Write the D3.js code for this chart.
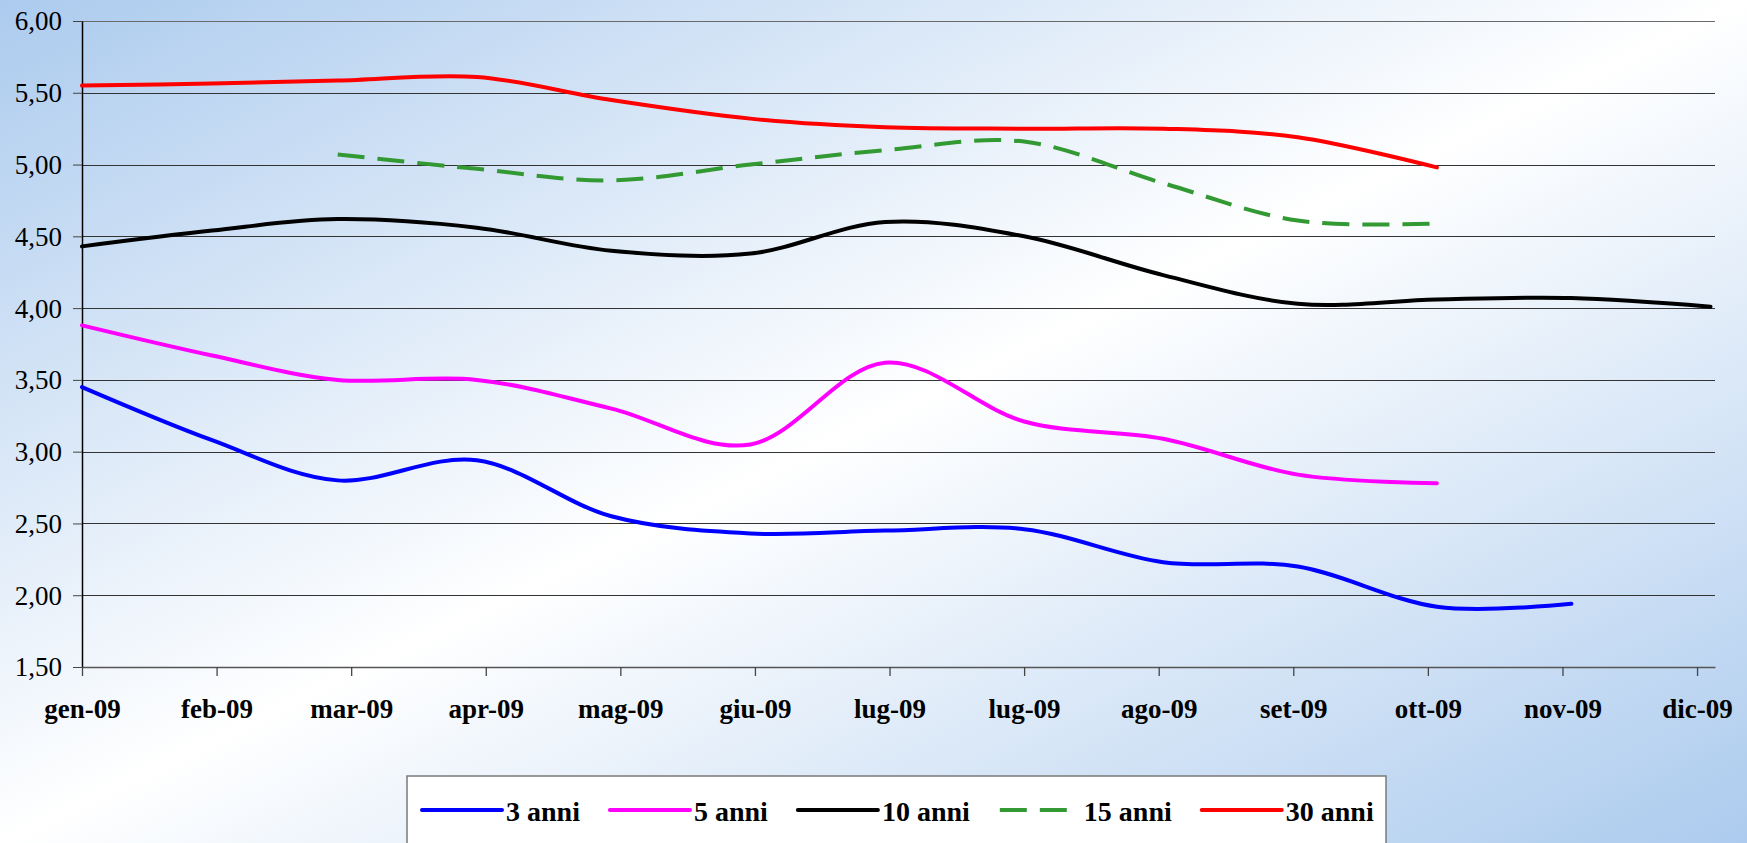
<!DOCTYPE html>
<html>
<head>
<meta charset="utf-8">
<script src="https://cdn.jsdelivr.net/npm/d3@7"></script>
<style>
	body { margin: 0; }
	svg { display: block; }
</style>
</head>
<body>
<div id="chart"></div>
<script>
// data points (one per month) and the values of each series
const pointDates = ['2009-01-02', '2009-01-31', '2009-02-28', '2009-03-31', '2009-04-30', '2009-05-31', '2009-06-30', '2009-07-31', '2009-08-31', '2009-09-30', '2009-10-31', '2009-11-30', '2009-12-31'];
const anni3 = [3.45, 3.08, 2.8, 2.94, 2.55, 2.43, 2.45, 2.46, 2.23, 2.2, 1.92, 1.94];
const anni5 = [3.88, 3.67, 3.5, 3.5, 3.3, 3.05, 3.62, 3.21, 3.09, 2.84, 2.78];
const anni10 = [4.43, 4.54, 4.62, 4.56, 4.4, 4.38, 4.6, 4.5, 4.23, 4.03, 4.06, 4.07, 4.01];
const anni15 = [null, null, 5.07, 4.97, 4.89, 5.0, 5.1, 5.16, 4.87, 4.61, 4.59];
const anni30 = [5.55, 5.565, 5.585, 5.61, 5.45, 5.32, 5.26, 5.25, 5.25, 5.19, 4.98];
const seriesNames = ['3 anni', '5 anni', '10 anni', '15 anni', '30 anni'];

// axis
const tickDates = ['2009-01-02', '2009-02-01', '2009-03-03', '2009-04-02', '2009-05-02', '2009-06-01', '2009-07-01', '2009-07-31', '2009-08-30', '2009-09-29', '2009-10-29', '2009-11-28', '2009-12-28'];
const tickLabels = ['gen-09', 'feb-09', 'mar-09', 'apr-09', 'mag-09', 'giu-09', 'lug-09', 'lug-09', 'ago-09', 'set-09', 'ott-09', 'nov-09', 'dic-09'];
const yTicks = [1.5, 2, 2.5, 3, 3.5, 4, 4.5, 5, 5.5, 6];

const FONT = "'Liberation Serif', 'Times New Roman', 'DejaVu Serif', serif";

function drawChart() {
	const width = 1747, height = 843;
	const plot = { left: 82, right: 1715, top: 21, bottom: 667 };
	const parse = d3.utcParse('%Y-%m-%d');

	const colors = ['#0000ff', '#ff00ff', '#000000', '#339933', '#ff0000'];
	const dashes = [null, null, null, '27,13', null];
	const values = [anni3, anni5, anni10, anni15, anni30];

	const series = seriesNames.map((name, i) => ({
		name: name,
		color: colors[i],
		dash: dashes[i],
		points: values[i].map((v, j) => ({ date: parse(pointDates[j]), value: v })),
	}));

	const xScale = d3.scaleUtc().domain([parse('2009-01-02'), parse('2010-01-01')]).range([plot.left, plot.right]);
	const yScale = d3.scaleLinear().domain([1.5, 6]).range([plot.bottom, plot.top]);

	const svg = d3.select('#chart').append('svg').attr('width', width).attr('height', height);

	// background
	const grad = svg.append('defs').append('linearGradient').attr('id', 'bg').attr('x1', 0).attr('y1', 0).attr('x2', 1).attr('y2', 1);
	grad.append('stop').attr('offset', '0%').attr('stop-color', '#accbee');
	grad.append('stop').attr('offset', '50%').attr('stop-color', '#ffffff');
	grad.append('stop').attr('offset', '100%').attr('stop-color', '#accbee');
	svg.append('rect').attr('width', width).attr('height', height).attr('fill', 'url(#bg)');

	// gridlines
	svg.append('g')
		.selectAll('line')
		.data(yTicks)
		.enter()
		.append('line')
		.attr('x1', plot.left)
		.attr('x2', plot.right)
		.attr('y1', (d) => Math.round(yScale(d)) + 0.5)
		.attr('y2', (d) => Math.round(yScale(d)) + 0.5)
		.attr('stroke', (d) => (d === 6 ? '#6a6a6a' : '#333'))
		.attr('stroke-width', 1.2);

	// y axis
	const fmt = (d) => d3.format('.2f')(d).replace('.', ',');
	const yAxis = d3.axisLeft(yScale).tickValues(yTicks).tickFormat(fmt).tickSize(9).tickSizeOuter(0).tickPadding(11);
	const gy = svg.append('g').attr('transform', `translate(${plot.left}, 0)`).call(yAxis).attr('font-family', FONT);
	gy.select('.domain').attr('stroke', '#000').attr('stroke-width', 1.5);
	gy.selectAll('.tick line').attr('stroke', '#444');
	gy.selectAll('text').attr('fill', '#000').style('font-family', FONT).style('font-size', '27px').attr('dy', '0.33em');

	// x axis
	const xAxis = d3.axisBottom(xScale)
		.tickValues(tickDates.map(parse))
		.tickFormat((d, i) => tickLabels[i])
		.tickSize(9)
		.tickSizeOuter(0);
	const gx = svg.append('g').attr('transform', `translate(0, ${plot.bottom})`).call(xAxis).attr('font-family', FONT);
	gx.select('.domain').attr('stroke', '#555').attr('stroke-width', 1.5);
	gx.selectAll('.tick line').attr('stroke', '#444').attr('stroke-width', 1.3);
	gx.selectAll('text')
		.attr('dy', null)
		.attr('y', 51)
		.attr('fill', '#000')
		.style('font-family', FONT)
		.style('font-size', '27px')
		.style('font-weight', 'bold');

	// lines
	const line = d3.line()
		.defined((d) => d.value !== null)
		.x((d) => xScale(d.date))
		.y((d) => yScale(d.value))
		.curve(d3.curveCardinal.tension(0));

	svg.append('g')
		.selectAll('path')
		.data(series)
		.enter()
		.append('path')
		.attr('d', (d) => line(d.points))
		.attr('fill', 'none')
		.attr('stroke', (d) => d.color)
		.attr('stroke-width', 4)
		.attr('stroke-dasharray', (d) => d.dash)
		.attr('stroke-linecap', (d) => (d.dash ? 'butt' : 'round'));

	// legend
	const legend = svg.append('g');
	legend.append('rect')
		.attr('x', 407)
		.attr('y', 776)
		.attr('width', 979)
		.attr('height', 90)
		.attr('fill', '#fff')
		.attr('stroke', '#7a7a7a')
		.attr('stroke-width', 1.5);

	let x = 422;
	series.forEach((s) => {
		legend.append('line')
			.attr('x1', x)
			.attr('x2', x + 80)
			.attr('y1', 810)
			.attr('y2', 810)
			.attr('stroke', s.color)
			.attr('stroke-width', 4)
			.attr('stroke-dasharray', s.dash)
			.attr('stroke-linecap', s.dash ? 'butt' : 'round');
		const t = legend.append('text')
			.attr('x', x + 84)
			.attr('y', 821)
			.style('font-family', FONT)
			.style('font-size', '28px')
			.style('font-weight', 'bold')
			.text(s.name);
		x += 84 + t.node().getComputedTextLength() + 30;
	});
}

drawChart();
</script>
</body>
</html>
